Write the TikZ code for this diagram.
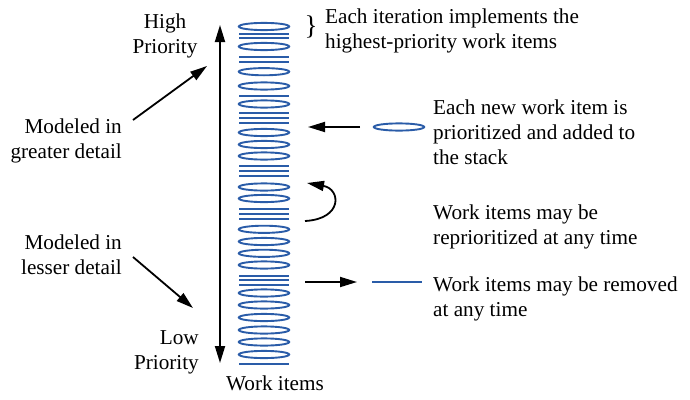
\documentclass[tikz,border=0pt]{standalone}
\usepackage{fontspec}
\setmainfont{Liberation Serif}
\usetikzlibrary{arrows.meta}
\definecolor{itemblue}{RGB}{42,92,168}
\begin{document}
\begin{tikzpicture}[x=1pt,y=-1pt,
  lbl/.style={font=\fontsize{21.2}{25}\selectfont, inner sep=0pt},
  arr/.style={line width=1.8pt, -{Triangle[length=17pt,width=10pt]}},
  dblarr/.style={line width=1.8pt, {Triangle[length=17pt,width=10pt]}-{Triangle[length=17pt,width=10pt]}},
  itemell/.style={draw=itemblue, line width=1.9pt},
  itemline/.style={draw=itemblue, line width=2pt}]
\useasboundingbox (0,0) rectangle (690,399);

% the stack of work items
\foreach \y in {26.5,46.5,71.7,86,104,132.5,144.5,156,187,198.5,229.3,241.5,253.3,265,293,305,317.5,330,342,354.5}
  \draw[itemell] (264,\y) ellipse [x radius=25.2pt, y radius=3.6pt];
\foreach \y in {33.5,37.5,56.5,61.5,96,113,117.7,122.5,166,171,176,209,214,219,275.5,280.3,285,364}
  \draw[itemline] (239,\y) -- (289,\y);
\node[lbl, anchor=base] (stacklbl) at (275,390) {Work items};

% priority axis
\coordinate (axtop) at (220,25);
\coordinate (axbot) at (220,363);
\draw[dblarr] (axbot) -- (axtop);
\node[lbl, anchor=base] (high1) at (165,28) {High};
\node[lbl, anchor=base] (high2) at (165,53) {Priority};
\node[lbl, anchor=base east] (low1) at (199,344) {Low};
\node[lbl, anchor=base east] (low2) at (199,369) {Priority};

% level of detail
\node[lbl, anchor=base east] (gd1) at (122,133) {Modeled in};
\node[lbl, anchor=base east] (gd2) at (122,158) {greater detail};
\coordinate (gdfrom) at (133,120);
\coordinate (gdto) at (207,66);
\draw[arr] (gdfrom) -- (gdto);
\node[lbl, anchor=base east] (ld1) at (122,249) {Modeled in};
\node[lbl, anchor=base east] (ld2) at (122,274) {lesser detail};
\coordinate (ldfrom) at (133,257);
\coordinate (ldto) at (193,308);
\draw[arr] (ldfrom) -- (ldto);

% iteration note
\node[font=\fontsize{27}{27}\selectfont, inner sep=0pt] (brace) at (311,27) {\}};
\node[lbl, anchor=base west] (it1) at (325,23) {Each iteration implements the};
\node[lbl, anchor=base west] (it2) at (325,48) {highest-priority work items};

% adding a new item
\draw[itemell] (399,127) ellipse [x radius=25.2pt, y radius=3.6pt];
\coordinate (addfrom) at (360,127);
\coordinate (addto) at (308,127);
\draw[arr] (addfrom) -- (addto);
\node[lbl, anchor=base west] (add1) at (433,114) {Each new work item is};
\node[lbl, anchor=base west] (add2) at (433,139) {prioritized and added to};
\node[lbl, anchor=base west] (add3) at (433,164) {the stack};

% reprioritizing
\coordinate (rpfrom) at (305,221);
\coordinate (rpto) at (307,183);
\draw[arr] (rpfrom) .. controls (343,219) and (341,189) .. (rpto);
\node[lbl, anchor=base west] (rp1) at (433,219) {Work items may be};
\node[lbl, anchor=base west] (rp2) at (433,244) {reprioritized at any time};

% removing an item
\coordinate (rmfrom) at (305,282);
\coordinate (rmto) at (357,282);
\draw[arr] (rmfrom) -- (rmto);
\draw[itemline] (372,282) -- (422,282);
\node[lbl, anchor=base west] (rm1) at (433,291) {Work items may be removed};
\node[lbl, anchor=base west] (rm2) at (433,316) {at any time};
\end{tikzpicture}
\end{document}
